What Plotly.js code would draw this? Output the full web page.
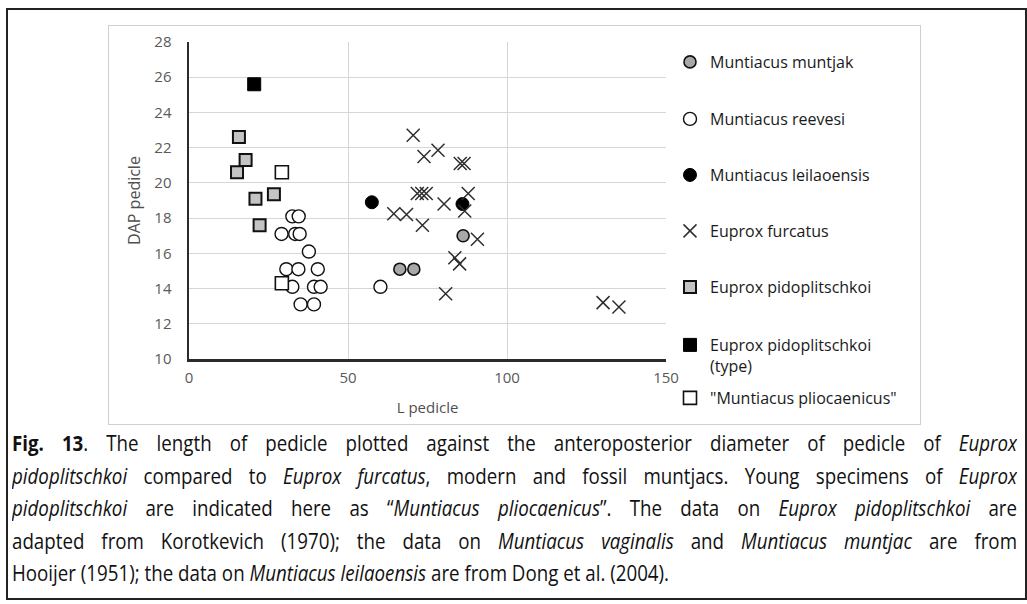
<!DOCTYPE html>
<html>
<head>
<meta charset="utf-8">
<script src="https://cdn.plot.ly/plotly-3.0.1.min.js"></script>
<style>
  html, body { margin: 0; padding: 0; background: #fff; }
  #wrap { position: relative; width: 1027px; height: 604px; overflow: hidden; }
  #outer { position: absolute; left: 6px; top: 8px; width: 1017px; height: 588px; border: 2px solid #222; }
  #chartbox { position: absolute; left: 108px; top: 25px; width: 811px; height: 398px; border: 1px solid #cfcfcf; }
  #plot { position: absolute; left: 0; top: 0; width: 1027px; height: 604px; }
  #caption { position: absolute; left: 12px; top: 427px; width: 1005px;
    font-family: "Open Sans", "Liberation Sans", sans-serif; font-size: 21px; color: #111; }
  #caption .ln { height: 32.5px; line-height: 32.5px; text-align: justify; text-align-last: justify;
    overflow: hidden; transform-origin: 0 50%; white-space: normal; }
  #caption .ln.last { text-align-last: left; }
  #probe { position: absolute; visibility: hidden; white-space: nowrap; font-family: "Open Sans", "Liberation Sans", sans-serif; font-size: 21px; }
</style>
</head>
<body>
<div id="wrap">
  <div id="outer"></div>
  <div id="chartbox"></div>
  <div id="plot"></div>
  <div id="caption"></div>
  <span id="probe"></span>
</div>
<script>
// ---- data ----
const muntjakX = [66.3, 70.7, 86.2];
const muntjakY = [15.1, 15.1, 17.0];

const reevesiX = [32.5, 34.5, 29.1, 33.4, 34.8, 37.7, 30.6, 34.4, 40.5, 32.5, 39.3, 41.4, 35.1, 39.3, 60.2];
const reevesiY = [18.1, 18.1, 17.1, 17.1, 17.1, 16.1, 15.1, 15.1, 15.1, 14.1, 14.1, 14.1, 13.1, 13.1, 14.1];

const leilaoX = [57.5, 86.0];
const leilaoY = [18.9, 18.8];

const furcatusX = [70.5, 73.9, 78.3, 85.3, 86.5, 71.8, 73.2, 74.6, 87.8, 80.2, 86.7, 64.4, 68.4, 73.4, 90.7, 83.6, 85.1, 80.7, 130.2, 135.2];
const furcatusY = [22.7, 21.5, 21.85, 21.1, 21.1, 19.4, 19.4, 19.4, 19.4, 18.8, 18.4, 18.25, 18.2, 17.6, 16.8, 15.75, 15.4, 13.7, 13.2, 12.95];

const pidoX = [15.7, 17.8, 15.1, 20.9, 26.7, 22.2];
const pidoY = [22.6, 21.3, 20.6, 19.1, 19.35, 17.6];

const typeX = [20.5];
const typeY = [25.6];

const plioX = [29.2, 29.2];
const plioY = [20.6, 14.3];

const seriesNames = ["Muntiacus muntjak", "Muntiacus reevesi", "Muntiacus leilaoensis", "Euprox furcatus",
  "Euprox pidoplitschkoi", "Euprox pidoplitschkoi<br>(type)", "\"Muntiacus pliocaenicus\""];

const xTicks = [0, 50, 100, 150];
const yTicks = [10, 12, 14, 16, 18, 20, 22, 24, 26, 28];

const captionLines = [
  "<b>Fig. 13</b>. The length of pedicle plotted against the anteroposterior diameter of pedicle of <i>Euprox</i>",
  "<i>pidoplitschkoi</i> compared to <i>Euprox furcatus</i>, modern and fossil muntjacs. Young specimens of <i>Euprox</i>",
  "<i>pidoplitschkoi</i> are indicated here as \u201c<i>Muntiacus pliocaenicus</i>\u201d. The data on <i>Euprox pidoplitschkoi</i> are",
  "adapted from Korotkevich (1970); the data on <i>Muntiacus vaginalis</i> and <i>Muntiacus muntjac</i> are from",
  "Hooijer (1951); the data on <i>Muntiacus leilaoensis</i> are from Dong et al. (2004)."
];

// ---- layout geometry ----
const W = 1027, H = 604;
const mL = 189, mR = 361, mT = 42, mB = 245;
const plotH = H - mT - mB;
const plotW = W - mL - mR;
function py(p) { return (H - mB - p) / plotH; }   // pixel y -> paper y
function px(p) { return (p - mL) / plotW; }       // pixel x -> paper x

const legendCenters = [62, 119, 175, 231, 287, 340, 398];
const legendKeys = ["legend", "legend2", "legend3", "legend4", "legend5", "legend6", "legend7"];

const specs = [
  { x: muntjakX, y: muntjakY, marker: { symbol: "circle", size: 12, color: "#a8a8a8", line: { color: "#111", width: 1.6 } } },
  { x: reevesiX, y: reevesiY, marker: { symbol: "circle", size: 13, color: "#ffffff", line: { color: "#111", width: 1.4 } } },
  { x: leilaoX, y: leilaoY, marker: { symbol: "circle", size: 13, color: "#000", line: { color: "#000", width: 1 } } },
  { x: furcatusX, y: furcatusY, marker: { symbol: "x-thin-open", size: 13, color: "#2e2e2e", line: { color: "#2e2e2e", width: 1.5 } } },
  { x: pidoX, y: pidoY, marker: { symbol: "square", size: 12, color: "#c4c4c4", line: { color: "#111", width: 2 } } },
  { x: typeX, y: typeY, marker: { symbol: "square", size: 13, color: "#000", line: { color: "#000", width: 1 } } },
  { x: plioX, y: plioY, marker: { symbol: "square", size: 13, color: "#ffffff", line: { color: "#111", width: 1.6 } } }
];

const traces = specs.map((s, i) => ({
  type: "scatter", mode: "markers",
  x: s.x, y: s.y, name: seriesNames[i], marker: s.marker,
  legend: legendKeys[i], cliponaxis: false
}));

const legendFont = { family: "Open Sans, sans-serif", size: 16, color: "#1a1a1a" };
const layout = {
  width: W, height: H,
  margin: { l: mL, r: mR, t: mT, b: mB, pad: 0 },
  paper_bgcolor: "rgba(0,0,0,0)", plot_bgcolor: "rgba(0,0,0,0)",
  showlegend: true,
  xaxis: {
    range: [0, 150], tickvals: xTicks, ticktext: xTicks.map(String),
    showgrid: true, gridcolor: "#d6d6d6", gridwidth: 1, zeroline: false,
    showline: true, linecolor: "#2b2b2b", linewidth: 2.5,
    ticks: "", ticklabelstandoff: 3,
    tickfont: { family: "Open Sans, sans-serif", size: 15, color: "#595959" },
    title: { text: "L pedicle", standoff: 17, font: { family: "Open Sans, sans-serif", size: 15, color: "#505050" } },
    fixedrange: true
  },
  yaxis: {
    range: [10, 28], tickvals: yTicks, ticktext: yTicks.map(String),
    showgrid: true, gridcolor: "#d6d6d6", gridwidth: 1, zeroline: false,
    showline: true, linecolor: "#2b2b2b", linewidth: 2.5,
    ticks: "", ticklabelstandoff: 12,
    tickfont: { family: "Open Sans, sans-serif", size: 15, color: "#595959" },
    title: { text: "DAP pedicle", standoff: 10, font: { family: "Open Sans, sans-serif", size: 16, color: "#505050" } },
    fixedrange: true
  }
};
legendKeys.forEach((k, i) => {
  layout[k] = {
    x: px(670), xanchor: "left",
    y: py(legendCenters[i]), yanchor: (i === 5 ? "top" : "middle"),
    bgcolor: "rgba(0,0,0,0)", borderwidth: 0,
    font: legendFont, valign: "top", itemclick: false, itemdoubleclick: false
  };
});
layout.legend6.y = py(legendCenters[5] - 12);

Plotly.newPlot("plot", traces, layout, { displayModeBar: false, staticPlot: true });

// caption: condensed look via horizontal scaling, fitted to the last (unjustified) line
const probe = document.getElementById("probe");
probe.innerHTML = captionLines[captionLines.length - 1];
const natural = probe.getBoundingClientRect().width;
const lastLineWidth = 657;
const s = lastLineWidth / natural;
const cap = document.getElementById("caption");
captionLines.forEach((t, i) => {
  const d = document.createElement("div");
  d.className = "ln" + (i === captionLines.length - 1 ? " last" : "");
  d.style.width = (1005 / s) + "px";
  d.style.transform = "scaleX(" + s + ")";
  d.innerHTML = t;
  cap.appendChild(d);
});
</script>
</body>
</html>
